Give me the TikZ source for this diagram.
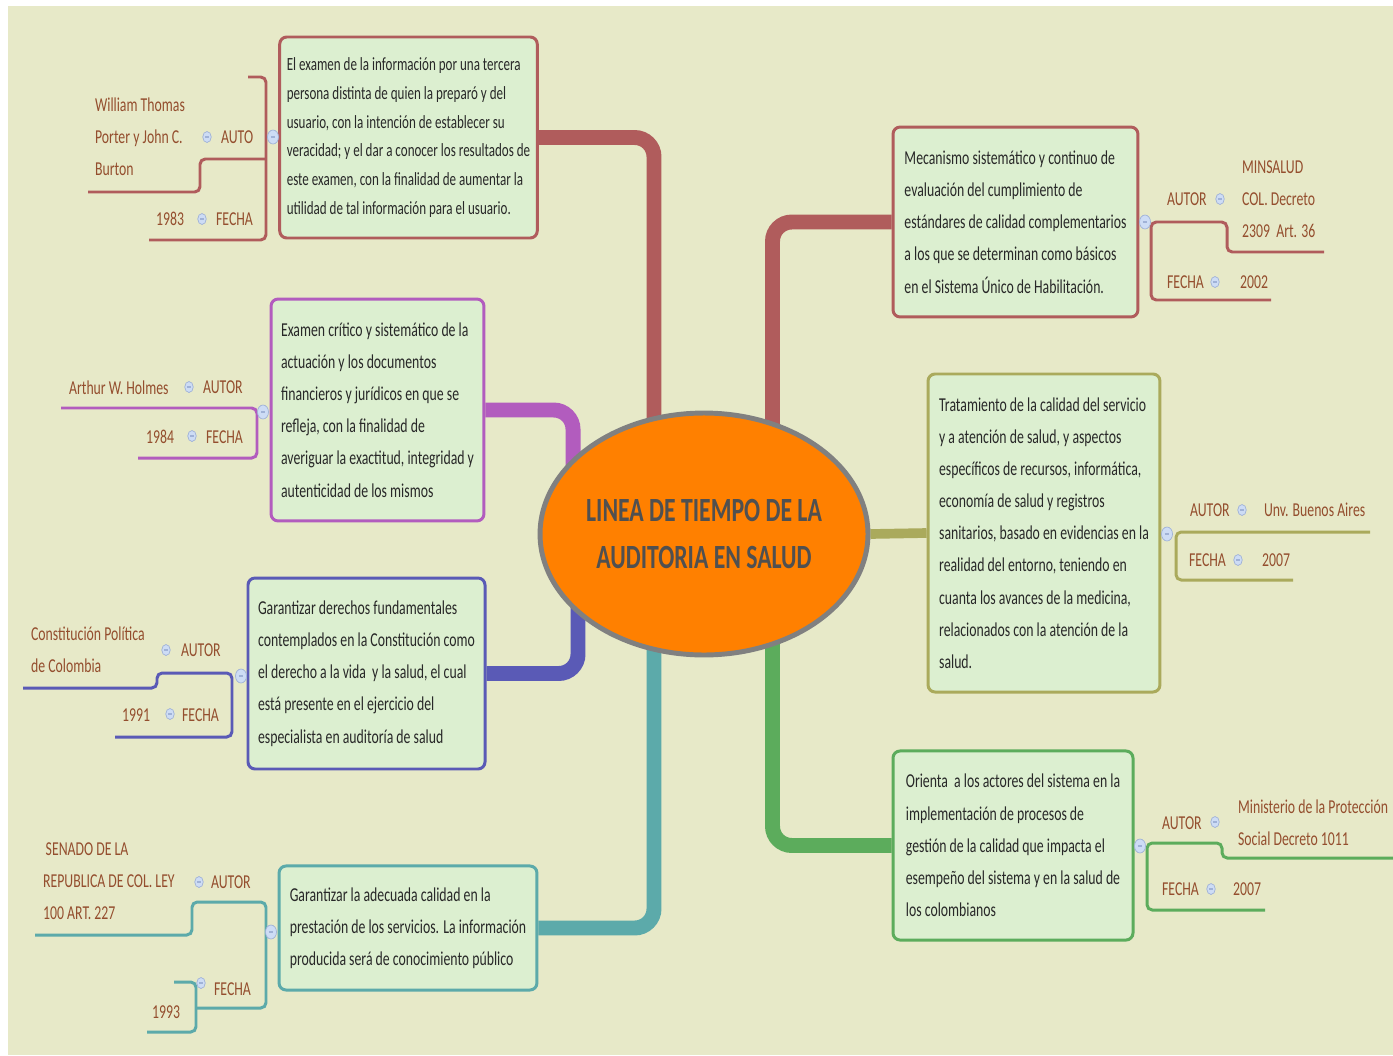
\documentclass[tikz,border=0pt]{standalone}
\usepackage{fontspec}
\setmainfont{Carlito}[FakeStretch=0.7]
\usetikzlibrary{shapes.geometric}

\definecolor{paper}{RGB}{231,233,200}
\definecolor{boxfill}{RGB}{220,239,208}
\definecolor{boxtext}{RGB}{40,40,40}
\definecolor{tagtext}{RGB}{148,78,46}
\definecolor{cRed}{RGB}{176,92,92}
\definecolor{cPurple}{RGB}{178,92,190}
\definecolor{cBlue}{RGB}{90,90,182}
\definecolor{cTeal}{RGB}{92,170,170}
\definecolor{cOlive}{RGB}{170,170,92}
\definecolor{cGreen}{RGB}{92,172,92}
\definecolor{hubfill}{RGB}{255,128,0}
\definecolor{hubline}{RGB}{128,128,128}
\definecolor{hubtext}{RGB}{80,80,80}
\definecolor{knobfill}{RGB}{205,220,245}
\definecolor{knobline}{RGB}{160,178,215}

\pgfdeclarelayer{bg}
\pgfdeclarelayer{links}
\pgfsetlayers{bg,links,main}

\tikzset{
  topic/.style={draw=#1, fill=boxfill, line width=1.7pt, rounded corners=4pt, text=boxtext,
    align=left, inner xsep=4pt, inner ysep=0pt, font=\fontsize{11.2}{18.3}\selectfont},
  stem/.style={draw=#1, line width=8.5pt, rounded corners=11pt},
  twig/.style={draw=#1, line width=1.7pt, rounded corners=3pt},
  tag/.style={text=tagtext, inner sep=1pt, anchor=west, align=left, font=\fontsize{11.2}{18.3}\selectfont},
  knob/.style={ellipse, draw=knobline, fill=knobfill, line width=0.4pt, inner sep=0pt,
    minimum width=0.17cm, minimum height=0.22cm,
    path picture={\draw[knobline, line width=0.6pt] ([xshift=-1.2pt]path picture bounding box.center) -- ([xshift=1.2pt]path picture bounding box.center);}},
  bigknob/.style={knob, minimum width=0.22cm, minimum height=0.28cm}
}

\begin{document}
\begin{tikzpicture}[x=0.02cm, y=-0.02cm]
\useasboundingbox (0,0) rectangle (1393,1055);
\begin{pgfonlayer}{bg}
\fill[paper] (8,6) rectangle (1393,1055);
\end{pgfonlayer}

\node[ellipse, draw=hubline, fill=hubfill, line width=2.8pt, minimum width=6.56cm, minimum height=4.84cm] (hub) at (704,534) {};
\node[text=hubtext, align=center, font=\bfseries\fontsize{19.3}{26.7}\selectfont] (title) at (hub.center)
  {LINEA DE TIEMPO DE LA\\AUDITORIA EN SALUD};

\node[topic=cRed, minimum width=146.3pt, minimum height=114.4pt, font=\fontsize{10.6}{16.3}\selectfont] (b1) at (408.5,137.5)
  {El examen de la información por una tercera\\persona distinta de quien la preparó y del\\usuario, con la intención de establecer su\\veracidad; y el dar a conocer los resultados de\\este examen, con la finalidad de aumentar la\\utilidad de tal información para el usuario.};
\node[topic=cRed, minimum width=139.4pt, minimum height=108.1pt] (b2) at (1015.5,222)
  {Mecanismo sistemático y continuo de\\evaluación del cumplimiento de\\estándares de calidad complementarios\\a los que se determinan como básicos\\en el Sistema Único de Habilitación.};
\node[topic=cPurple, minimum width=121.2pt, minimum height=126.3pt] (b3) at (377.5,410)
  {Examen crítico y sistemático de la\\actuación y los documentos\\financieros y jurídicos en que se\\refleja, con la finalidad de\\averiguar la exactitud, integridad y\\autenticidad de los mismos};
\node[topic=cBlue, minimum width=134.9pt, minimum height=108.7pt] (b4) at (366.5,673.5)
  {Garantizar derechos fundamentales\\contemplados en la Constitución como\\el derecho a la vida\ \ y la salud, el cual\\está presente en el ejercicio del\\especialista en auditoría de salud};
\node[topic=cTeal, minimum width=146.8pt, minimum height=70.6pt] (b5) at (408,928)
  {Garantizar la adecuada calidad en la\\prestación de los servicios. La información\\producida será de conocimiento público};
\node[topic=cOlive, minimum width=132pt, minimum height=181pt] (b6) at (1044,533)
  {Tratamiento de la calidad del servicio\\y a atención de salud, y aspectos\\específicos de recursos, informática,\\economía de salud y registros\\sanitarios, basado en evidencias en la\\realidad del entorno, teniendo en\\cuanta los avances de la medicina,\\relacionados con la atención de la\\salud.};
\node[topic=cGreen, minimum width=136.6pt, minimum height=107.6pt] (b7) at (1013,845.5)
  {Orienta\ \ a los actores del sistema en la\\implementación de procesos de\\gestión de la calidad que impacta el\\esempeño del sistema y en la salud de\\los colombianos};

\node[tag] (v1a) at (93,137) {William Thomas\\Porter y John C.\\Burton};
\node[tag] (k1a) at (219,137) {AUTO};
\node[tag] (v1b) at (154,219) {1983};
\node[tag] (k1b) at (214,219) {FECHA};

\node[tag] (k2a) at (1165,199) {AUTOR};
\node[tag] (v2a) at (1240,199) {MINSALUD\\COL. Decreto\\2309\ \ Art. 36};
\node[tag] (k2b) at (1165,282) {FECHA};
\node[tag] (v2b) at (1238,282) {2002};

\node[tag] (v3a) at (67,388) {Arthur W. Holmes};
\node[tag] (k3a) at (201,387) {AUTOR};
\node[tag] (v3b) at (144,437) {1984};
\node[tag] (k3b) at (204,437) {FECHA};

\node[tag] (v4a) at (29,650) {Constitución Política\\de Colombia};
\node[tag] (k4a) at (179,650) {AUTOR};
\node[tag] (v4b) at (120,715) {1991};
\node[tag] (k4b) at (180,715) {FECHA};

\node[tag] (v5a) at (41,881) {\hspace{1.5pt}SENADO DE LA\\REPUBLICA DE COL. LEY\\100 ART. 227};
\node[tag] (k5a) at (209,882) {AUTOR};
\node[tag] (v5b) at (150,1012) {1993};
\node[tag] (k5b) at (212,989) {FECHA};

\node[tag] (k6a) at (1188,510) {AUTOR};
\node[tag] (v6a) at (1262,510) {Unv. Buenos Aires};
\node[tag] (k6b) at (1187,560) {FECHA};
\node[tag] (v6b) at (1260,560) {2007};

\node[tag] (k7a) at (1160,823) {AUTOR};
\node[tag] (v7a) at (1236,823) {Ministerio de la Protección\\Social Decreto 1011};
\node[tag] (k7b) at (1160,889) {FECHA};
\node[tag] (v7b) at (1231,889) {2007};

\begin{pgfonlayer}{links}
\draw[stem=cRed] (b1.east) -| ([xshift=-1cm]hub.center);
\draw[stem=cPurple] (b3.east) -| ([xshift=-2.62cm]hub.center);
\draw[stem=cBlue] (b4.east) -| ([xshift=-2.52cm]hub.center);
\draw[stem=cTeal] (b5.east) -| ([xshift=-1cm]hub.center);
\draw[stem=cRed] (b2.west) -| ([xshift=1.37cm]hub.center);
\draw[stem=cGreen] (b7.west) -| ([xshift=1.37cm]hub.center);
\draw[stem=cOlive, line width=5.5pt] (hub.east) -- (b6.west);

\draw[twig=cRed] (248,77) -- (266,77) -- (266,240) -- (149,240);
\draw[twig=cRed] (266,159) -- (200,159) -- (200,192) -- (88,192);
\draw[twig=cRed] (1271,300) -- (1151,300) -- (1151,222) -- (1227,222) -- (1227,252) -- (1324,252);
\draw[twig=cPurple] (61,408) -- (257,408) -- (257,458) -- (138,458);
\draw[twig=cBlue] (23,688) -- (157,688) -- (157,673) -- (232,673) -- (232,737) -- (115,737);
\draw[twig=cTeal] (35,935) -- (192,935) -- (192,902) -- (266,902) -- (266,1008) -- (196,1008);
\draw[twig=cTeal] (174,982) -- (196,982) -- (196,1032) -- (147,1032);
\draw[twig=cOlive] (1293,580) -- (1176,580) -- (1176,532) -- (1370,532);
\draw[twig=cGreen] (1265,910) -- (1147,910) -- (1147,843) -- (1222,843) -- (1222,858) -- (1393,858);
\end{pgfonlayer}

\node[bigknob] (m1) at (273,137) {};
\node[knob] (m1a) at (207,137) {};
\node[knob] (m1b) at (202,219) {};
\node[bigknob] (m2) at (1145,222) {};
\node[knob] (m2a) at (1220,199) {};
\node[knob] (m2b) at (1215,282) {};
\node[bigknob] (m3) at (263,412) {};
\node[knob] (m3a) at (189,387) {};
\node[knob] (m3b) at (192,436) {};
\node[bigknob] (m4) at (241,676) {};
\node[knob] (m4a) at (166,650) {};
\node[knob] (m4b) at (170,714) {};
\node[bigknob] (m5) at (271,932) {};
\node[knob] (m5a) at (199,882) {};
\node[knob] (m5b) at (201,983) {};
\node[bigknob] (m6) at (1167,534) {};
\node[knob] (m6a) at (1242,510) {};
\node[knob] (m6b) at (1238,560) {};
\node[bigknob] (m7) at (1140,846) {};
\node[knob] (m7a) at (1215,822) {};
\node[knob] (m7b) at (1211,889) {};
\end{tikzpicture}
\end{document}
